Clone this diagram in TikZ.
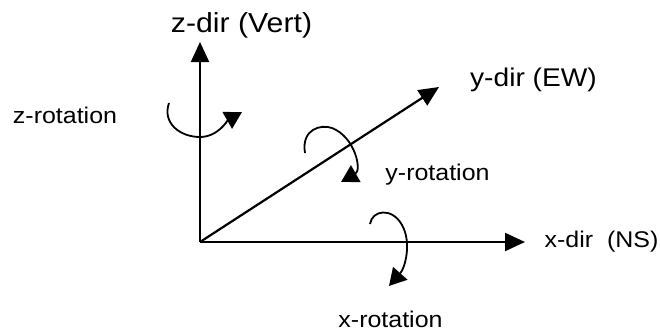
\documentclass[tikz,border=0pt]{standalone}
\usepackage{fontspec}
\setmainfont{Liberation Sans}
\newfontfamily\wide[FakeStretch=1.1]{Liberation Sans}
\usepackage{tikz}
\usetikzlibrary{arrows.meta}

\begin{document}
\begin{tikzpicture}[
  x=1pt,y=-1pt,
  ax/.style={-{Triangle[length=20pt,width=18pt]},line width=2.2pt},
  rot/.style={-{Triangle[length=17pt,width=19pt]},line width=1.8pt},
  t/.style={inner sep=0pt,anchor=base,font=\wide\fontsize{22.7}{26}\selectfont},
  tb/.style={t,font=\wide\fontsize{25.6}{30}\selectfont},
  tz/.style={t,font=\wide\fontsize{27.5}{32}\selectfont}]
\useasboundingbox (0,0) rectangle (660,332);
% axes
\coordinate (o)    at (200,242);
\coordinate (xend) at (525,242);
\coordinate (yend) at (439,87);
\coordinate (zend) at (200,42);
\draw[ax] (o)--(xend);
\draw[ax] (o)--(yend);
\draw[ax] (o)--(zend);
\node[t]  (xdir) at (601.5,247) {x-dir~ (NS)};
\node[tb] (ydir) at (533.5,86)  {y-dir (EW)};
\node[tz] (zdir) at (241.5,32)  {z-dir (Vert)};
% rotations
\draw[rot] (169,103) .. controls (162,123) and (180,137) .. (200,137)
           .. controls (218,137) and (228,120) .. (242,112);
\draw[rot] (305,153) .. controls (301,129) and (321,124) .. (332,128)
           .. controls (355,137) and (362,170) .. (341,182);
\draw[rot] (370,224) .. controls (372,210) and (392,207) .. (402,225)
           .. controls (412,243) and (405,268) .. (389,286);
\node[t] (zrot) at (65,123)    {z-rotation};
\node[t] (yrot) at (437.5,180) {y-rotation};
\node[t] (xrot) at (390.5,327) {x-rotation};
\end{tikzpicture}
\end{document}
